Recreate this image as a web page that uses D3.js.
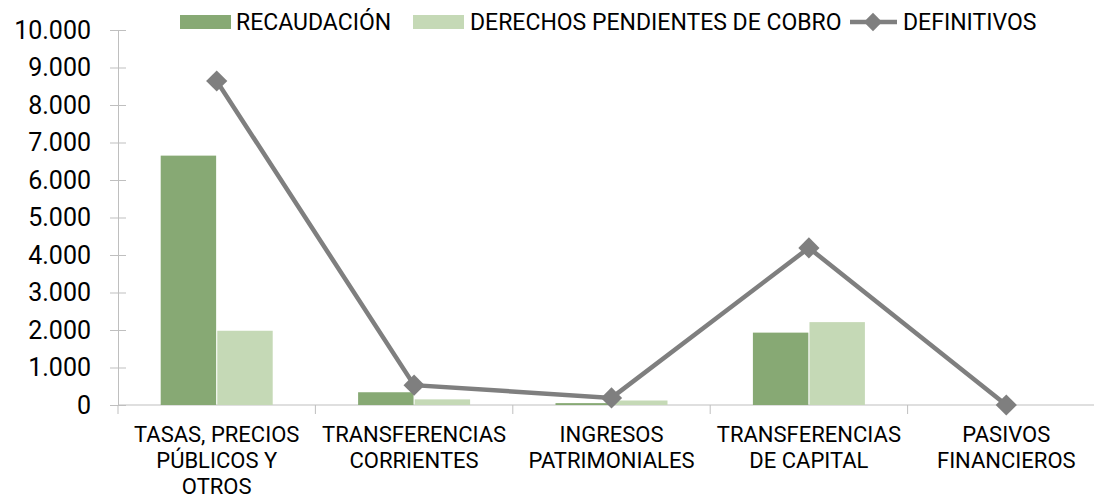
<!DOCTYPE html>
<html>
<head>
<meta charset="utf-8">
<script src="https://cdn.jsdelivr.net/npm/d3@7"></script>
<style>
  body { margin: 0; background: #fff; }
  text { font-family: Roboto, "Open Sans", sans-serif; fill: #000; }
</style>
</head>
<body>
<div class="vis"></div>
<script>
const categories = [
  ["TASAS, PRECIOS", "PÚBLICOS Y", "OTROS"],
  ["TRANSFERENCIAS", "CORRIENTES"],
  ["INGRESOS", "PATRIMONIALES"],
  ["TRANSFERENCIAS", "DE CAPITAL"],
  ["PASIVOS", "FINANCIEROS"]
];
const recaudacion = [6650, 340, 50, 1930, 0];
const derechos = [1980, 150, 120, 2210, 0];
const definitivos = [8640, 530, 190, 4190, 0];
const yTicks = [0, 1000, 2000, 3000, 4000, 5000, 6000, 7000, 8000, 9000, 10000];

const W = 1094, H = 500;
const margin = { top: 30, right: -11, bottom: 95, left: 118 };
const width = W - margin.left - margin.right;
const height = H - margin.top - margin.bottom;

const svg = d3.select(".vis").append("svg")
  .attr("width", W).attr("height", H);
const g = svg.append("g")
  .attr("transform", "translate(" + margin.left + "," + margin.top + ")");

const keys = categories.map((d, i) => i);
const x = d3.scaleBand().domain(keys).range([0, width]);
const y = d3.scaleLinear().domain([0, 10000]).range([height, 0]);
const fmt = d3.formatLocale({ decimal: ",", thousands: ".", grouping: [3] }).format(",");

const axisColor = "#BFBFBF";

// y axis
const yAxis = g.append("g").call(d3.axisLeft(y).tickValues(yTicks).tickFormat(fmt).tickSize(0).tickPadding(27));
yAxis.select(".domain").attr("stroke", axisColor);
yAxis.selectAll("text").style("font-family", "Roboto, sans-serif").attr("font-size", 25);
yAxis.selectAll(".tick").append("line")
  .attr("x1", -8).attr("x2", 8).attr("stroke", axisColor);

// x axis
g.append("line").attr("x1", 0).attr("x2", width).attr("y1", y(0)).attr("y2", y(0)).attr("stroke", axisColor);
g.selectAll(".xtick").data(keys.concat([keys.length])).enter().append("line")
  .attr("x1", (d) => d * x.bandwidth()).attr("x2", (d) => d * x.bandwidth())
  .attr("y1", y(0)).attr("y2", y(0) + 9).attr("stroke", axisColor);

// category labels
const lab = g.selectAll(".xlab").data(categories).enter().append("text")
  .attr("text-anchor", "middle")
  .attr("font-size", 22)
  .attr("x", (d, i) => x(i) + x.bandwidth() / 2)
  .attr("y", height + 37);
lab.selectAll("tspan").data((d) => d).enter().append("tspan")
  .attr("x", function () { return d3.select(this.parentNode).attr("x"); })
  .attr("dy", (d, i) => (i === 0 ? 0 : 26))
  .text((d) => d);

// bars
const barW = 55;
const inner = d3.scaleBand().domain([0, 1]).range([0, barW * 2 + 2]).paddingInner(0.02);
const series = [recaudacion, derechos];
const colors = ["#87A974", "#C5D9B6"];
series.forEach((vals, s) => {
  g.selectAll(".bar" + s).data(vals).enter().append("rect")
    .attr("x", (d, i) => x(i) + x.bandwidth() / 2 - barW - 1 + inner(s))
    .attr("width", inner.bandwidth())
    .attr("y", (d) => y(d))
    .attr("height", (d) => y(0) - y(d))
    .attr("fill", colors[s]);
});

// line
const lineColor = "#7F7F7F";
const cx = (i) => x(i) + x.bandwidth() / 2;
g.append("path").datum(definitivos)
  .attr("fill", "none").attr("stroke", lineColor).attr("stroke-width", 4.5)
  .attr("d", d3.line().x((d, i) => cx(i)).y((d) => y(d)));
g.selectAll(".mk").data(definitivos).enter().append("rect")
  .attr("x", -7.5).attr("y", -7.5).attr("width", 15).attr("height", 15)
  .attr("fill", lineColor)
  .attr("transform", (d, i) => "translate(" + cx(i) + "," + y(d) + ") rotate(45)");

// legend
const leg = svg.append("g").attr("font-size", 23);
leg.append("rect").attr("x", 180).attr("y", 15).attr("width", 51).attr("height", 14).attr("fill", colors[0]);
leg.append("text").attr("x", 236).attr("y", 30).text("RECAUDACIÓN");
leg.append("rect").attr("x", 413).attr("y", 15).attr("width", 51).attr("height", 14).attr("fill", colors[1]);
leg.append("text").attr("x", 470).attr("y", 30).text("DERECHOS PENDIENTES DE COBRO");
leg.append("line").attr("x1", 850).attr("x2", 897).attr("y1", 22).attr("y2", 22)
  .attr("stroke", lineColor).attr("stroke-width", 4.5);
leg.append("rect").attr("x", -6.5).attr("y", -6.5).attr("width", 13).attr("height", 13)
  .attr("fill", lineColor).attr("transform", "translate(873,22) rotate(45)");
leg.append("text").attr("x", 903).attr("y", 30).text("DEFINITIVOS");
</script>
</body>
</html>
